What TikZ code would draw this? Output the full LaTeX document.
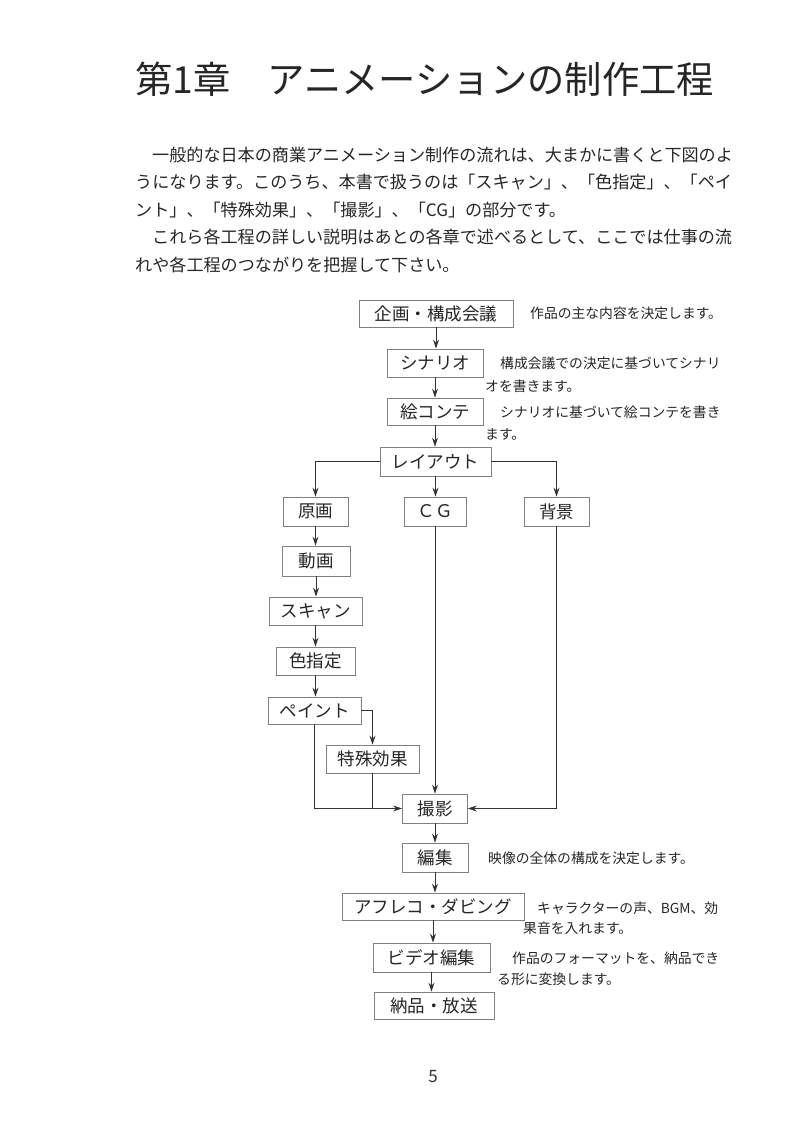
\documentclass[tikz,border=0pt]{standalone}
\usepackage{fontspec}
\setmainfont{Noto Sans CJK JP}
\usetikzlibrary{arrows.meta}
\begin{document}
\begin{tikzpicture}[x=1pt,y=-1pt,
  box/.style={draw=black!50, line width=0.7pt, fill=white, inner sep=0pt,
    font=\fontsize{17.5}{17.5}\selectfont, text=black!85},
  arr/.style={draw=black!80, line width=1pt, -{Stealth[length=9pt,width=6pt]}},
  ln/.style={draw=black!80, line width=1pt},
  note/.style={anchor=west, inner sep=0pt, font=\fontsize{13.8}{13.8}\selectfont, text=black!85},
  para/.style={anchor=west, inner sep=0pt, font=\fontsize{17.1}{17.1}\selectfont, text=black!85}]
\useasboundingbox (0,0) rectangle (800,1134);
\fill[white] (0,0) rectangle (800,1134);

% title
\node[anchor=west, inner sep=0pt, font=\fontsize{37.3}{37.3}\selectfont, text=black!85] (title) at (135,79) {第1章　アニメーションの制作工程};

% paragraph
\node[para] (p1) at (152,155) {一般的な日本の商業アニメーション制作の流れは、大まかに書くと下図のよ};
\node[para] (p2) at (135,182.5) {うになります。このうち、本書で扱うのは「スキャン」、「色指定」、「ペイ};
\node[para] (p3) at (135,210) {ント」、「特殊効果」、「撮影」、「CG」の部分です。};
\node[para] (p4) at (152,237) {これら各工程の詳しい説明はあとの各章で述べるとして、ここでは仕事の流};
\node[para] (p5) at (135,265) {れや各工程のつながりを把握して下さい。};

% boxes
\node[box, minimum width=154pt, minimum height=27pt] (plan) at (436,313.5) {企画・構成会議};
\node[box, minimum width=96pt, minimum height=28pt] (scen) at (435,363) {シナリオ};
\node[box, minimum width=96pt, minimum height=27pt] (conte) at (435,411.5) {絵コンテ};
\node[box, minimum width=111pt, minimum height=29pt] (layout) at (435.5,461.5) {レイアウト};
\node[box, minimum width=65pt, minimum height=29pt] (genga) at (315.5,511.5) {原画};
\node[box, minimum width=62pt, minimum height=29pt] (cg) at (435,511.5) {ＣＧ};
\node[box, minimum width=65pt, minimum height=29pt] (bg) at (556.5,511.5) {背景};
\node[box, minimum width=68pt, minimum height=30pt] (douga) at (316,561) {動画};
\node[box, minimum width=93pt, minimum height=28pt] (scan) at (315.5,611) {スキャン};
\node[box, minimum width=79pt, minimum height=28pt] (color) at (315.5,661) {色指定};
\node[box, minimum width=93pt, minimum height=27pt] (paint) at (314.5,710.5) {ペイント};
\node[box, minimum width=93pt, minimum height=28pt] (sfx) at (372.5,759) {特殊効果};
\node[box, minimum width=65pt, minimum height=29pt] (shoot) at (435,808.5) {撮影};
\node[box, minimum width=66pt, minimum height=29pt] (edit) at (435,857.5) {編集};
\node[box, minimum width=182pt, minimum height=27pt] (dub) at (433,906.5) {アフレコ・ダビング};
\node[box, minimum width=117pt, minimum height=29pt] (video) at (431.5,957.5) {ビデオ編集};
\node[box, minimum width=120pt, minimum height=27pt] (deliv) at (434,1005.5) {納品・放送};

% notes
\node[note] (n1) at (530,313.5) {作品の主な内容を決定します。};
\node[note] (n2a) at (500,363) {構成会議での決定に基づいてシナリ};
\node[note] (n2b) at (485,386) {オを書きます。};
\node[note] (n3a) at (500,412) {シナリオに基づいて絵コンテを書き};
\node[note] (n3b) at (485,434) {ます。};
\node[note] (n4) at (488,858) {映像の全体の構成を決定します。};
\node[note] (n5a) at (537,908) {キャラクターの声、BGM、効};
\node[note] (n5b) at (523,928) {果音を入れます。};
\node[note] (n6a) at (512,958) {作品のフォーマットを、納品でき};
\node[note] (n6b) at (497,979) {る形に変換します。};

% page number
\node[inner sep=0pt, font=\fontsize{17}{17}\selectfont, text=black!80] (page) at (433,1077) {5};

% connectors
\draw[arr] (plan.south) -- (plan.south |- scen.north);
\draw[arr] (scen.south) -- (scen.south |- conte.north);
\draw[arr] (conte.south) -- (conte.south |- layout.north);
\draw[arr] (layout.west) -| (genga.north);
\draw[arr] (layout.south) -- (layout.south |- cg.north);
\draw[arr] (layout.east) -| (bg.north);
\draw[arr] (genga.south) -- (genga.south |- douga.north);
\draw[arr] (douga.south) -- (douga.south |- scan.north);
\draw[arr] (scan.south) -- (scan.south |- color.north);
\draw[arr] (color.south) -- (color.south |- paint.north);
\draw[arr] (paint.east) -| (sfx.north);
\draw[arr] (paint.south) |- (shoot.west);
\draw[ln] (sfx.south) -- (sfx.south |- shoot.west);
\draw[arr] (cg.south) -- (cg.south |- shoot.north);
\draw[arr] (bg.south) |- (shoot.east);
\draw[arr] (shoot.south) -- (shoot.south |- edit.north);
\draw[arr] (edit.south) -- (edit.south |- dub.north);
\draw[arr] (dub.south) -- (dub.south |- video.north);
\draw[arr] (video.south) -- (video.south |- deliv.north);
\end{tikzpicture}
\end{document}
